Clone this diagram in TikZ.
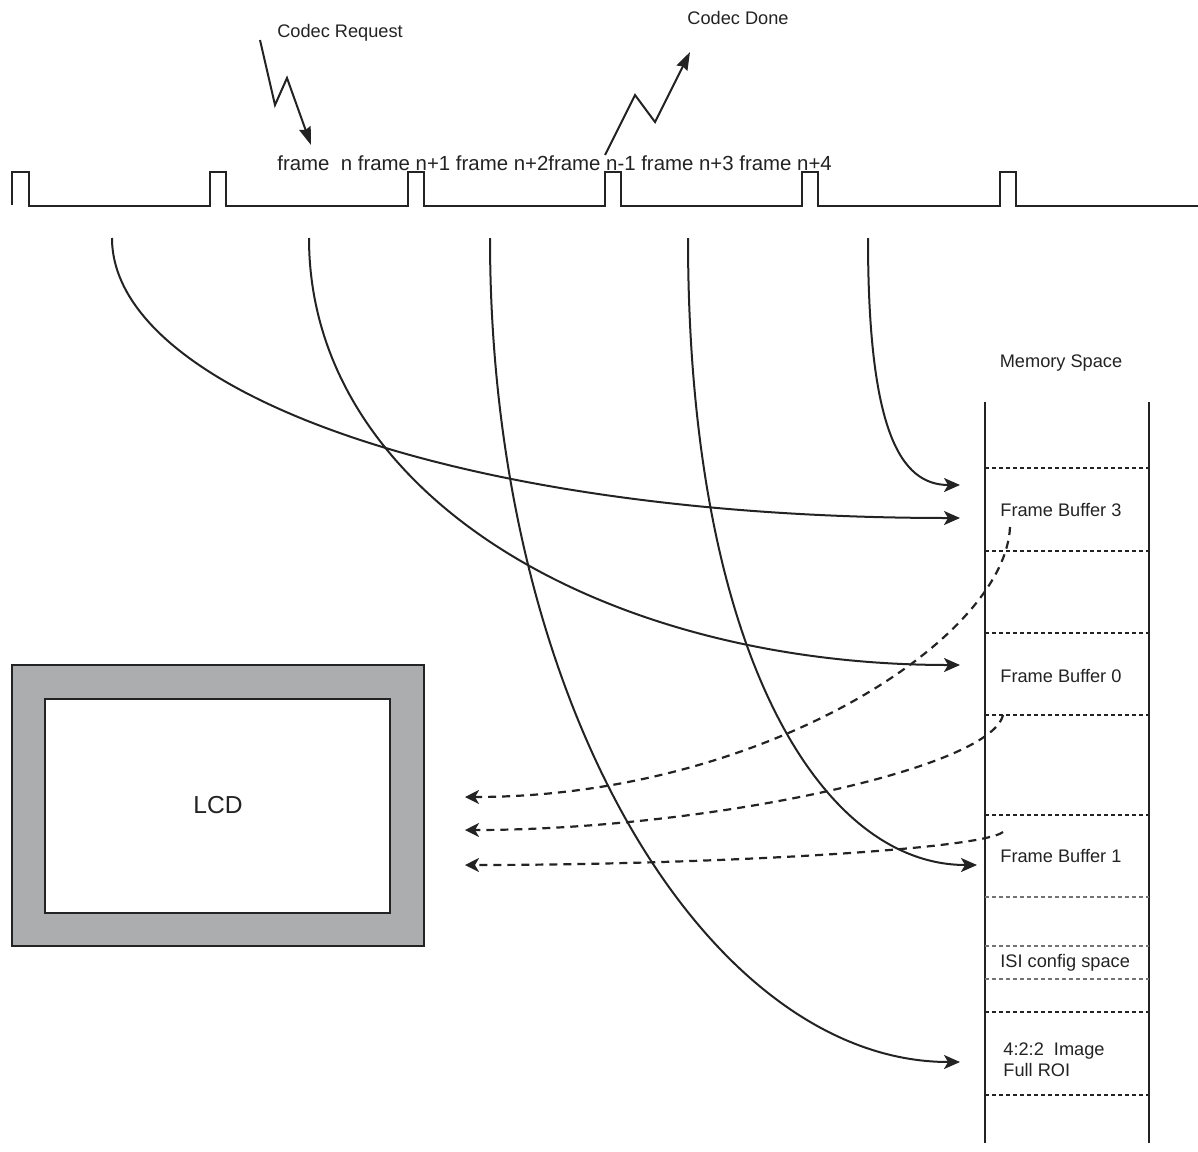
\documentclass[tikz,border=0pt]{standalone}
\usepackage{fontspec}
\setmainfont{Liberation Sans}
\usetikzlibrary{arrows.meta}
\definecolor{lcdgray}{RGB}{172,173,175}
\definecolor{ink}{RGB}{35,35,35}
\tikzset{
  sig/.style={line width=1.2pt, ink},
  flow/.style={line width=1pt, ink, -{Stealth[length=8pt,width=7pt,inset=2pt]}},
  back/.style={line width=1.1pt, ink, dash pattern=on 4pt off 3pt, -{Stealth[length=7pt,width=7pt,inset=2pt]}},
  zig/.style={line width=1pt, ink, -{Stealth[length=9pt,width=6pt,inset=1pt]}},
  sep/.style={line width=1pt, ink, dash pattern=on 2pt off 1.5pt},
  seplight/.style={line width=0.6pt, black!55, dash pattern=on 2pt off 1.5pt},
  lbl/.style={font=\fontsize{9.1}{10.5}\selectfont, inner sep=0pt, text=ink},
}
\begin{document}
\begin{tikzpicture}[x=0.5pt, y=-0.5pt]
\useasboundingbox (0,0) rectangle (1198,1151);

\draw[sig](12,205)--(12,172)--(29,172)--(29,206)--(210,206)--(210,172)--(226,172)--(226,206)
  --(408,206)--(408,172)--(424,172)--(424,206)--(605,206)--(605,172)--(621,172)--(621,206)
  --(802,206)--(802,172)--(818,172)--(818,206)--(1000,206)--(1000,172)--(1016,172)--(1016,206)--(1198,206);
\node[anchor=base west, inner sep=0pt, text=ink, font=\fontsize{10.2}{12}\selectfont] (frames) at (277,170)
  {frame\ \ n frame n+1 frame n+2frame n-1 frame n+3 frame n+4};

\node[lbl] (req) at (340,33) {Codec Request};
\node[lbl] (done) at (738,18) {Codec Done};
\coordinate (reqin) at (260,40);
\coordinate (reqout) at (311,145);
\coordinate (donein) at (605,155);
\coordinate (doneout) at (690,52);
\draw[zig](reqin)--(275,105)--(287,78)--(reqout);
\draw[zig](donein)--(635,95)--(655,122)--(doneout);

\node[lbl] (mem) at (1061,363) {Memory Space};
\draw[sig](985,402)--(985,1143);
\draw[sig](1149,402)--(1149,1143);
\foreach \y in {468,551,633,715,815,1012,1095}
  \draw[sep](985,\y)--(1149,\y);
\foreach \y in {897,946,979}
  \draw[seplight](985,\y)--(1149,\y);
\node[lbl, anchor=west] (fb3) at (1000,510) {Frame Buffer 3};
\node[lbl, anchor=west] (fb0) at (1000,676) {Frame Buffer 0};
\node[lbl, anchor=west] (fb1) at (1000,856) {Frame Buffer 1};
\node[lbl, anchor=west] (isi) at (1000,963) {ISI config space};
\node[lbl, anchor=west, align=left] (roi) at (1003,1060) {4:2:2\ \ Image\\Full ROI};

\draw[line width=1.1pt, ink, fill=lcdgray](12,665) rectangle (424,946);
\draw[line width=1pt, ink, fill=white](45,699) rectangle (390,913);
\node[inner sep=0pt, text=ink, font=\fontsize{12.3}{14}\selectfont] (lcd) at (218,805) {LCD};

\coordinate (s1) at (112,238);
\coordinate (s2) at (309,238);
\coordinate (s3) at (490,238);
\coordinate (s4) at (688,238);
\coordinate (s5) at (868,238);
\coordinate (t3) at (960,518);
\coordinate (t3a) at (960,485);
\coordinate (t0) at (960,665);
\coordinate (t1) at (977,865);
\coordinate (troi) at (960,1062);
\draw[flow](s1) .. controls +(0,150) and +(-510,0) .. (t3);
\draw[flow](s2) .. controls +(0,255) and +(-360,0) .. (t0);
\draw[flow](s3) .. controls +(0,470) and +(-250,0) .. (troi);
\draw[flow](s4) .. controls +(0,412) and +(-157,0) .. (t1);
\draw[flow](s5) .. controls +(0,192) and +(-60,0) .. (t3a);

\coordinate (d1) at (1010,527);
\coordinate (d2) at (1003,715);
\coordinate (d3) at (1003,832);
\coordinate (l1) at (465,797);
\coordinate (l2) at (465,830);
\coordinate (l3) at (465,865);
\draw[back](d1) .. controls +(-5,113) and +(295,0) .. (l1);
\draw[back](d2) .. controls +(-13,55) and +(235,0) .. (l2);
\draw[back](d3) .. controls +(-23,18) and +(235,0) .. (l3);
\end{tikzpicture}
\end{document}
